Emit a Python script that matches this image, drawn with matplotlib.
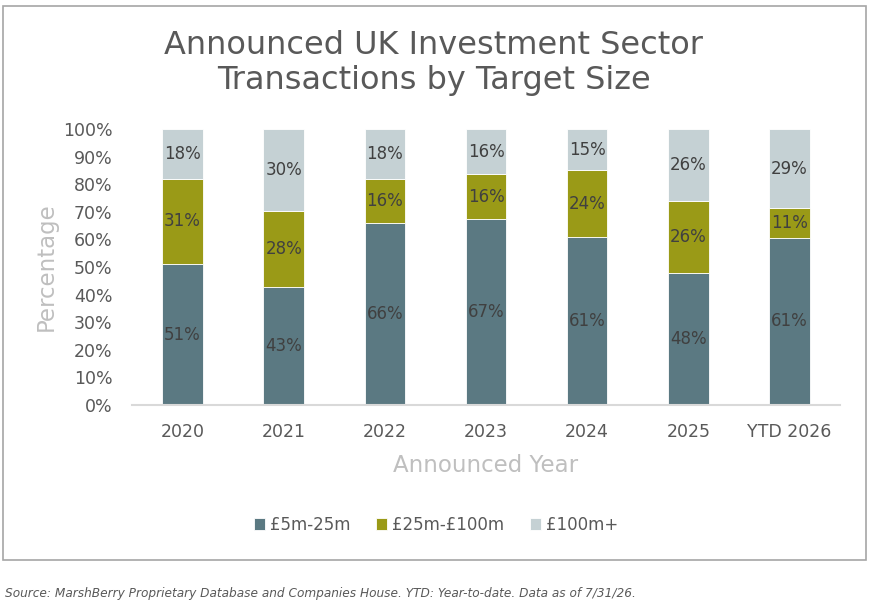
import numpy as np
import matplotlib
matplotlib.use("Agg")
import matplotlib.pyplot as plt
from matplotlib.patches import Rectangle

years = ["2020", "2021", "2022", "2023", "2024", "2025", "YTD 2026"]
small = [51.0, 42.6, 66.0, 67.4, 61.0, 48.0, 60.6]      # £5m-25m
mid = [31.0, 27.6, 16.0, 16.2, 24.0, 26.0, 10.6]        # £25m-£100m
large = [18.0, 29.8, 18.0, 16.4, 15.0, 26.0, 28.8]      # £100m+
series_names = ["£5m-25m", "£25m-£100m", "£100m+"]
colors = ["#5B7982", "#9A9A17", "#C5D1D4"]

plt.rcParams["font.family"] = ["DejaVu Sans"]

fig = plt.figure(figsize=(8.76, 6.08), dpi=100)

# outer frame
fig.patches.append(Rectangle((3 / 876, 48 / 608), 863 / 876, 554 / 608,
                             transform=fig.transFigure, fill=False,
                             edgecolor="#A6A6A6", linewidth=1.2))

ax = fig.add_axes([132 / 876, 203 / 608, 708 / 876, 276 / 608])
x = np.arange(len(years))
width = 0.4

bottom = np.zeros(len(years))
for vals, name, col in zip([small, mid, large], series_names, colors):
    vals = np.asarray(vals)
    ax.bar(x, vals, width, bottom=bottom, color=col, label=name,
           edgecolor="white", linewidth=0.6)
    for xi, b, v in zip(x, bottom, vals):
        ax.text(xi, b + v / 2, f"{int(v + 0.5)}%", ha="center", va="center",
                fontsize=12, color="#404040")
    bottom += vals

ax.set_xlim(-0.5, len(years) - 0.5)
ax.set_ylim(0, 100)
ax.set_yticks(np.arange(0, 101, 10))
ax.set_yticklabels([f"{t}%" for t in range(0, 101, 10)])
ax.set_xticks(x)
ax.set_xticklabels(years)
ax.tick_params(axis="both", length=0, labelsize=12.5, labelcolor="#595959")
ax.tick_params(axis="x", pad=13)
ax.tick_params(axis="y", pad=14)
for s in ["top", "right", "left"]:
    ax.spines[s].set_visible(False)
ax.spines["bottom"].set_color("#D9D9D9")
ax.spines["bottom"].set_linewidth(1.5)

ax.set_ylabel("Percentage", fontsize=16.5, color="#BFBFBF", labelpad=4)
ax.set_xlabel("Announced Year", fontsize=16.5, color="#BFBFBF", labelpad=9)

fig.text(434 / 876, 1 - 63 / 608, "Announced UK Investment Sector\nTransactions by Target Size",
         ha="center", va="center", fontsize=23, color="#595959", linespacing=1.18)

ax.legend(loc="center", bbox_to_anchor=(436 / 876, 1 - 525 / 608),
          bbox_transform=fig.transFigure, ncol=3, frameon=False,
          fontsize=12, labelcolor="#595959", handlelength=0.7,
          handleheight=0.7, handletextpad=0.3, columnspacing=1.5)

fig.text(5 / 876, 1 - 593 / 608,
         "Source: MarshBerry Proprietary Database and Companies House. YTD: Year-to-date. Data as of 7/31/26.",
         ha="left", va="center", fontsize=8.75, style="italic", color="#595959")

fig.savefig("out.png", dpi=100)
